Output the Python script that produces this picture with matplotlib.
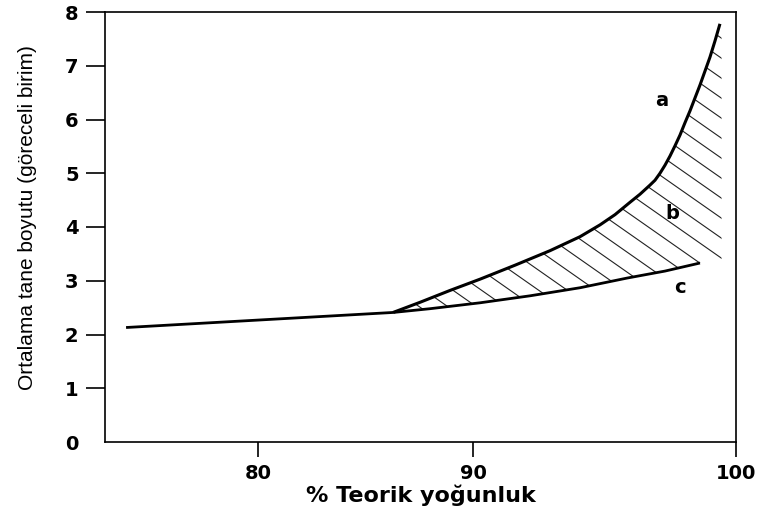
#!/usr/bin/env python3

import numpy as np
import matplotlib
matplotlib.use("Agg")
import matplotlib.pyplot as plt
from matplotlib.patches import Polygon
from matplotlib.collections import LineCollection


##### data #####
BASE_X = [73.86, 86.28]
BASE_Y = [2.13, 2.41]

A_X = [86.28, 87.54, 88.93, 90.27, 91.60, 92.93, 94.07, 94.83, 95.40, 95.97,
       96.35, 96.73, 96.92, 97.11, 97.30, 97.49, 97.68, 97.87, 98.06, 98.25,
       98.44, 98.63, 98.82, 99.01, 99.20, 99.39]
A_Y = [2.41, 2.60, 2.82, 3.03, 3.29, 3.56, 3.82, 4.04, 4.23, 4.46,
       4.61, 4.78, 4.87, 5.00, 5.15, 5.32, 5.51, 5.71, 5.94, 6.16,
       6.40, 6.64, 6.90, 7.16, 7.46, 7.78]

C_X = [86.28, 88.00, 90.27, 92.17, 94.07, 95.86, 97.30, 98.63]
C_Y = [2.41, 2.48, 2.59, 2.72, 2.87, 3.05, 3.18, 3.33]

HATCH_RIGHT_X = 99.45
HATCH_RIGHT_Y = [7.60, 3.40]

LABELS = ["a", "b", "c"]
LABEL_X = [97.19, 97.57, 97.87]
LABEL_Y = [6.36, 4.26, 2.88]

X_TICKS = [80, 90, 100]
Y_TICKS = [0, 1, 2, 3, 4, 5, 6, 7, 8]

##### the drawn x axis is not evenly spaced: piecewise linear scale #####
AXIS_DATA = [70, 80, 90, 100, 110]
AXIS_POS = [43, 258, 473, 736, 999]


def fwd(x):
    return np.interp(x, AXIS_DATA, AXIS_POS)


def inv(p):
    return np.interp(p, AXIS_POS, AXIS_DATA)


plt.rcParams["font.family"] = ["Liberation Sans", "DejaVu Sans"]
BOLD_WIDE = ["DejaVu Sans"]

fig = plt.figure(figsize=(7.61, 5.21), dpi=100)
ax = fig.add_axes([105 / 761, 79 / 521, 631 / 761, 430 / 521])
ax.set_xscale("function", functions=(fwd, inv))

##### hatched zone between a and c #####
poly_x = A_X + [HATCH_RIGHT_X, HATCH_RIGHT_X] + C_X[::-1]
poly_y = A_Y + HATCH_RIGHT_Y + C_Y[::-1]
poly = Polygon(np.column_stack([poly_x, poly_y]), closed=True,
               facecolor="none", edgecolor="none", transform=ax.transData)
ax.add_patch(poly)

slope = 0.7 * 631 / 430
step = 20 / 430
y0 = 1.431
segs = [[(0, y0 - k * step), (1, y0 - k * step - slope)] for k in range(-40, 80)]
lc = LineCollection(segs, colors="#222222", linewidths=0.8, transform=ax.transAxes)
lc.set_clip_path(poly)
ax.add_collection(lc, autolim=False)

##### curves #####
ax.plot(BASE_X, BASE_Y, color="black", linewidth=2.0, solid_capstyle="butt")
ax.plot(A_X, A_Y, color="black", linewidth=2.2, solid_capstyle="butt")
ax.plot(C_X, C_Y, color="black", linewidth=2.0, solid_capstyle="butt")

for lab, lx, ly in zip(LABELS, LABEL_X, LABEL_Y):
    ax.text(lx, ly, lab, fontsize=14, fontweight="bold", family=BOLD_WIDE,
            ha="center", va="center")

ax.set_xlim(72.88, 100)
ax.set_ylim(0, 8)

ax.set_xticks(X_TICKS)
ax.set_xticklabels([str(t) for t in X_TICKS])
ax.set_yticks(Y_TICKS)
ax.set_yticklabels([str(t) for t in Y_TICKS])
ax.minorticks_off()

ax.tick_params(axis="x", direction="out", length=11, width=1.2, pad=5, labelsize=14)
ax.tick_params(axis="y", direction="out", length=14, width=1.2, pad=5, labelsize=14)
for t in ax.get_xticklabels() + ax.get_yticklabels():
    t.set_fontweight("bold")
    t.set_family(BOLD_WIDE)
ax.yaxis.get_major_ticks()[0].tick1line.set_visible(False)

for sp in ax.spines.values():
    sp.set_linewidth(1.2)

ax.set_xlabel("% Teorik yoğunluk", fontsize=16, fontweight="bold", family=BOLD_WIDE)
ax.xaxis.set_label_coords(0.5, -0.098)
ax.set_ylabel("Ortalama tane boyutu (göreceli birim)", fontsize=15)
ax.yaxis.set_label_coords(-0.108, 0.523)

fig.savefig("out.png", dpi=100)
plt.close(fig)
